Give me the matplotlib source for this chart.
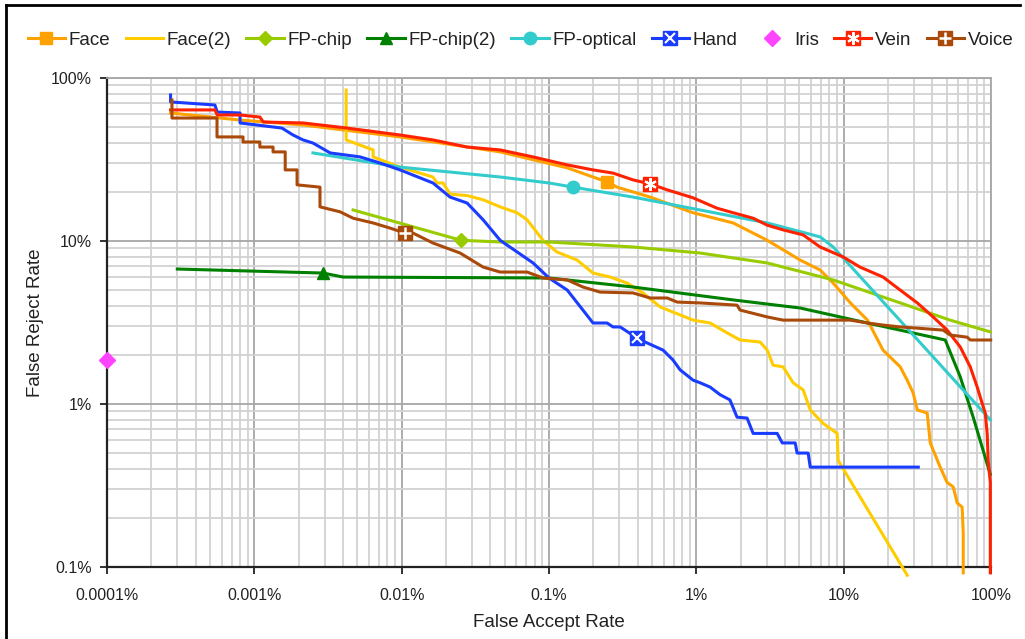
import matplotlib
matplotlib.use("Agg")
import matplotlib.pyplot as plt
from matplotlib.lines import Line2D
from matplotlib.legend_handler import HandlerTuple
from matplotlib.ticker import FixedLocator, NullFormatter, LogLocator

plt.rcParams['font.family'] = ['Liberation Sans', 'DejaVu Sans']

# ---------------- data (values in percent) ----------------
x_ticks = [1e-4, 1e-3, 1e-2, 1e-1, 1, 10, 100]
x_labels = ["0.0001%", "0.001%", "0.01%", "0.1%", "1%", "10%", "100%"]
y_ticks = [0.1, 1, 10, 100]
y_labels = ["0.1%", "1%", "10%", "100%"]

face_far = [2.7e-4, 8.0e-4, 2.14e-3, 9.75e-3, 0.0466, 0.133, 0.199, 0.248, 0.290, 0.486, 0.951, 1.78, 3.03,
            5.07, 6.92, 8.49, 11.1, 14.5, 18.5, 24.2, 27.0, 29.6, 31.6, 36.9, 38.7, 45.2, 50.4, 55.4, 59.0,
            63.7, 64.8, 64.8]
face_frr = [61.0, 55.2, 51.5, 43.5, 35.2, 28.1, 24.7, 23.0, 21.4, 18.6, 14.9, 12.9, 10.1, 7.64, 6.64, 5.52,
            4.17, 3.27, 2.14, 1.69, 1.40, 1.17, 0.92, 0.88, 0.577, 0.41, 0.33, 0.31, 0.247, 0.233, 0.162, 0.092]

face2_far = [4.2e-3, 4.2e-3, 6.4e-3, 6.4e-3, 9.75e-3, 0.0163, 0.0174, 0.0191, 0.0213, 0.0278, 0.0357, 0.0466,
             0.0607, 0.071, 0.091, 0.113, 0.155, 0.199, 0.260, 0.339, 0.435, 0.568, 0.951, 1.24, 1.62, 1.98,
             2.71, 3.03, 3.32, 3.88, 4.54, 5.31, 5.93, 7.26, 9.03, 9.18, 27.0]
face2_frr = [84.4, 41.7, 36.2, 32.8, 28.4, 24.7, 22.7, 22.7, 19.4, 19.0, 17.9, 16.2, 14.9, 13.5, 10.1, 8.57,
             7.64, 6.36, 6.01, 5.52, 4.80, 3.94, 3.27, 3.14, 2.73, 2.47, 2.40, 2.14, 1.73, 1.69, 1.35, 1.22,
             0.92, 0.76, 0.66, 0.45, 0.089]

chip_far = [4.68e-3, 0.0253, 0.0466, 0.1, 0.372, 1.06, 3.03, 8.49, 24.2, 52.8, 98.9]
chip_frr = [15.5, 10.1, 9.86, 9.86, 9.19, 8.44, 7.33, 5.77, 4.17, 3.27, 2.77]

chip2_far = [3.0e-4, 2.93e-3, 4.0e-3, 0.1, 0.372, 1.78, 5.07, 14.5, 48.9, 61.8, 75.7, 98.9]
chip2_frr = [6.73, 6.36, 6.01, 5.93, 5.22, 4.35, 3.88, 3.14, 2.47, 1.47, 0.83, 0.37]

optical_far = [2.5e-3, 9.75e-3, 0.0466, 0.1, 0.146, 0.372, 1.06, 3.03, 6.92, 8.49, 98.9]
optical_frr = [34.7, 28.4, 24.7, 22.7, 21.4, 18.6, 15.5, 12.9, 10.6, 9.19, 0.80]

hand_far = [2.7e-4, 2.7e-4, 5.4e-4, 5.6e-4, 8.0e-4, 8.0e-4, 1.54e-3, 1.83e-3, 2.14e-3, 2.5e-3, 3.27e-3,
            5.22e-3, 7.13e-3, 9.75e-3, 0.0163, 0.0213, 0.0278, 0.0357, 0.0466, 0.0607, 0.078, 0.1, 0.133,
            0.199, 0.248, 0.272, 0.304, 0.396, 0.463, 0.595, 0.695, 0.776, 0.951, 1.06, 1.24, 1.45, 1.69,
            1.89, 2.21, 2.43, 3.54, 3.83, 4.69, 4.83, 5.74, 5.93, 32.1]
hand_frr = [78.7, 71.3, 68.3, 61.8, 61.0, 53.0, 49.3, 44.7, 41.7, 39.9, 34.7, 32.8, 30.1, 27.3, 22.7, 18.6,
            17.1, 13.5, 10.1, 8.57, 7.33, 5.93, 5.0, 3.14, 3.14, 2.97, 2.97, 2.54, 2.37, 2.14, 1.86, 1.62,
            1.40, 1.35, 1.27, 1.14, 1.06, 0.83, 0.82, 0.66, 0.66, 0.577, 0.577, 0.50, 0.50, 0.41, 0.41]

iris_far = [1e-4]
iris_frr = [1.86]

vein_far = [2.7e-4, 5.4e-4, 5.6e-4, 8.0e-4, 1.09e-3, 1.15e-3, 2.14e-3, 4.26e-3, 9.75e-3, 0.0163, 0.0278,
            0.0466, 0.078, 0.133, 0.199, 0.272, 0.372, 0.486, 0.634, 0.951, 1.38, 1.78, 2.43, 3.03, 3.88,
            5.31, 6.92, 9.93, 12.9, 18.5, 24.2, 31.6, 40.5, 50.4, 61.8, 72.3, 80.6, 87.1, 91.4, 94.2, 95.7,
            98.9, 98.9]
vein_frr = [63.7, 63.7, 59.3, 59.3, 57.6, 53.7, 53.0, 49.3, 44.7, 41.7, 37.7, 36.2, 32.8, 29.3, 27.3, 26.1,
            23.7, 22.4, 20.6, 18.4, 15.9, 14.9, 13.8, 12.5, 11.7, 10.9, 9.19, 7.98, 6.92, 6.01, 5.0, 4.17,
            3.42, 2.84, 2.24, 1.69, 1.27, 1.01, 0.88, 0.66, 0.45, 0.33, 0.092]

voice_far = [2.76e-4, 2.76e-4, 5.58e-4, 5.58e-4, 8.38e-4, 8.38e-4, 1.09e-3, 1.09e-3, 1.34e-3, 1.34e-3,
             1.62e-3, 1.62e-3, 1.95e-3, 1.95e-3, 2.79e-3, 2.79e-3, 3.82e-3, 4.68e-3, 6.4e-3, 8.34e-3, 0.0105,
             0.0119, 0.0163, 0.0249, 0.0357, 0.0466, 0.071, 0.091, 0.133, 0.170, 0.222, 0.372, 0.486, 0.634,
             0.741, 1.06, 1.89, 1.98, 3.03, 3.88, 11.1, 14.5, 18.5, 24.2, 31.6, 47.3, 52.8, 68.9, 72.3, 99.5]
voice_frr = [73.3, 56.8, 56.8, 43.5, 43.5, 40.5, 40.5, 37.7, 37.7, 35.2, 35.2, 27.3, 27.3, 22.1, 21.4, 16.2,
             15.1, 13.8, 12.9, 12.0, 11.2, 11.2, 9.72, 8.44, 6.92, 6.45, 6.45, 5.93, 5.77, 5.22, 4.86, 4.80,
             4.47, 4.47, 4.22, 4.17, 4.04, 3.77, 3.42, 3.27, 3.27, 3.14, 3.05, 2.97, 2.92, 2.84, 2.65, 2.57,
             2.47, 2.47]

# ---------------- figure ----------------
fig = plt.figure(figsize=(10.25, 6.39), dpi=100)
ax = fig.add_axes([107 / 1025, 1 - 567 / 639, 884 / 1025, 489 / 639])
ax.set_xscale('log')
ax.set_yscale('log')
ax.set_xlim(1e-4, 100)
ax.set_ylim(0.1, 100)

lw = 2.2
handles = []

def series(x, y, color, label, mk=None, idx=None, ms=8, over=None, over_ms=7, over_mew=1.5):
    kw = dict(color=color, lw=lw, label=label, clip_on=False, zorder=3)
    if mk is not None:
        kw.update(marker=mk, markevery=[idx], ms=ms, mfc=color, mec=color)
    ln, = ax.plot(x, y, **kw)
    h = ln
    if over is not None:
        o, = ax.plot([x[idx]], [y[idx]], linestyle='none', marker=over, ms=over_ms, mec='white',
                     mfc='white', mew=over_mew, clip_on=False, zorder=4)
        h = (ln, o)
    handles.append(h)

series(face_far, face_frr, '#FFA200', 'Face', 's', 7, ms=9)
series(face2_far, face2_frr, '#FFCC00', 'Face(2)')
series(chip_far, chip_frr, '#99CC00', 'FP-chip', 'D', 1, ms=7)
series(chip2_far, chip2_frr, '#008000', 'FP-chip(2)', '^', 1, ms=9)
series(optical_far, optical_frr, '#33CCCC', 'FP-optical', 'o', 4, ms=9)
series(hand_far, hand_frr, '#1A3CFF', 'Hand', 's', 27, ms=10, over='x', over_ms=7)
iris, = ax.plot(iris_far, iris_frr, linestyle='none', marker='D', ms=8, color='#FF44FF', clip_on=False,
                zorder=5, label='Iris')
handles.append(iris)
series(vein_far, vein_frr, '#FF2200', 'Vein', 's', 17, ms=10, over=(6, 2, 0), over_ms=9)
series(voice_far, voice_frr, '#AA4A0A', 'Voice', 's', 20, ms=10, over='+', over_ms=8, over_mew=1.8)

labels = ['Face', 'Face(2)', 'FP-chip', 'FP-chip(2)', 'FP-optical', 'Hand', 'Iris', 'Vein', 'Voice']
fig.legend(handles, labels, loc='center', bbox_to_anchor=(0.508, 1 - 40 / 639), ncol=9, frameon=False,
           fontsize=13.5, handlelength=2.0, handletextpad=0.2, columnspacing=0.8, numpoints=1,
           labelcolor='#222222', borderaxespad=0,
           handler_map={tuple: HandlerTuple(ndivide=1, pad=0)})

# grid and ticks
ax.xaxis.set_major_locator(FixedLocator(x_ticks))
ax.yaxis.set_major_locator(FixedLocator(y_ticks))
ax.xaxis.set_minor_locator(LogLocator(base=10, subs=range(2, 10), numticks=20))
ax.yaxis.set_minor_locator(LogLocator(base=10, subs=range(2, 10), numticks=20))
ax.xaxis.set_minor_formatter(NullFormatter())
ax.yaxis.set_minor_formatter(NullFormatter())
ax.set_xticklabels(x_labels)
ax.set_yticklabels(y_labels)
ax.grid(True, which='major', color='#a6a6a6', lw=1.3, zorder=0)
ax.grid(True, which='minor', color='#d2d2d2', lw=1.3, zorder=0)
ax.set_axisbelow(True)
ax.tick_params(which='major', direction='out', length=5, width=1.3, color='#222222',
               labelsize=11.5, labelcolor='#222222', pad=6)
ax.tick_params(axis='x', which='major', pad=10)
ax.tick_params(which='minor', length=0)

for s in ['left', 'bottom']:
    ax.spines[s].set_color('#222222')
    ax.spines[s].set_linewidth(1.6)
for s in ['top', 'right']:
    ax.spines[s].set_color('#a6a6a6')
    ax.spines[s].set_linewidth(1.3)

ax.set_xlabel('False Accept Rate', fontsize=13.5, color='#222222', labelpad=8)
ax.set_ylabel('False Reject Rate', fontsize=13.5, color='#222222', labelpad=5)

# outer border (left and top)
fig.add_artist(Line2D([6 / 1025, 6 / 1025], [0, 1 - 5 / 639], transform=fig.transFigure,
                      color='black', lw=2))
fig.add_artist(Line2D([6 / 1025, 1020 / 1025], [1 - 5 / 639, 1 - 5 / 639], transform=fig.transFigure,
                      color='black', lw=2))

fig.savefig('out.png', dpi=100)
